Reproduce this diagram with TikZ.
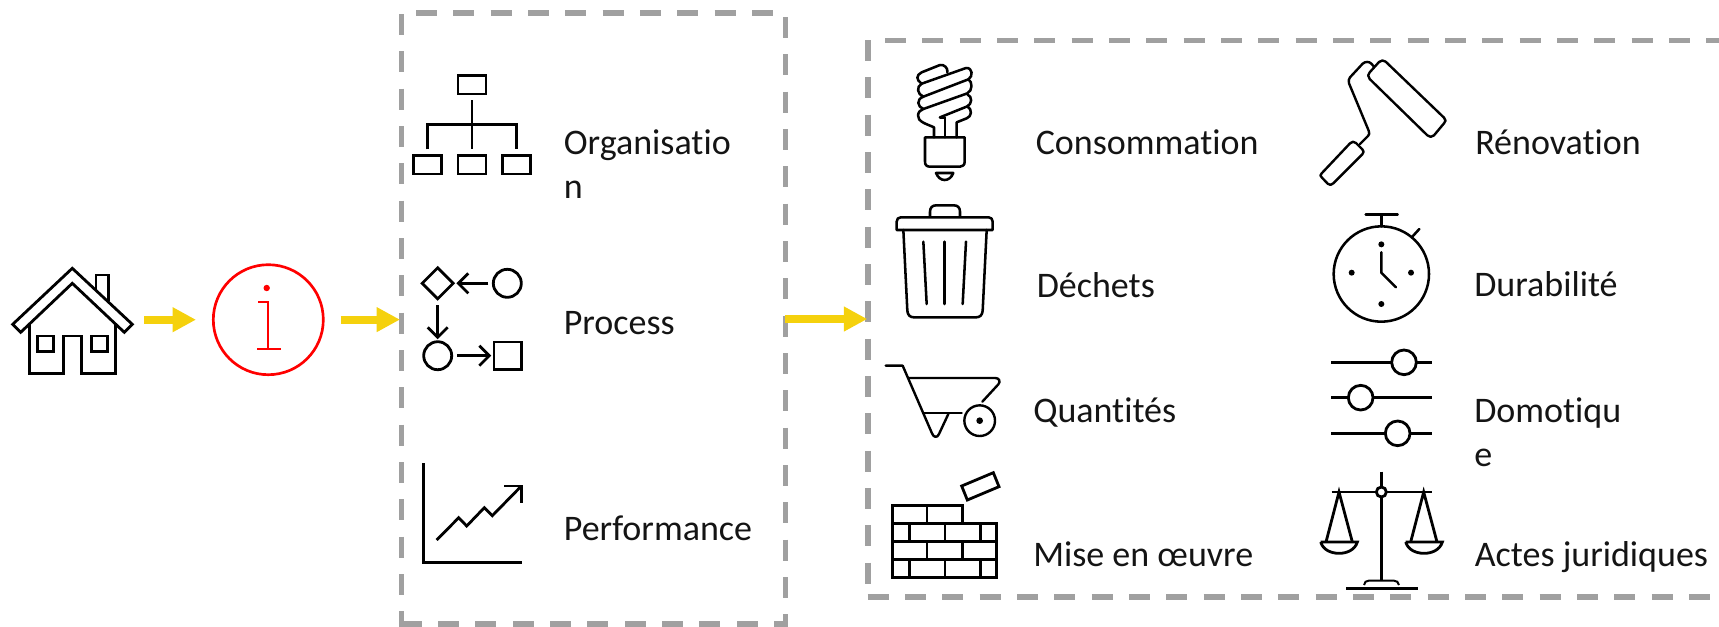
\documentclass[tikz,border=0pt]{standalone}
\usepackage{fontspec}
\setmainfont[Ligatures=NoCommon]{Carlito}
\usetikzlibrary{arrows.meta}
\definecolor{ygold}{HTML}{F5D10D}
\definecolor{dashgray}{HTML}{A0A0A0}
\definecolor{infored}{HTML}{FF0000}
\tikzset{
  ic/.style={line width=2.1pt,draw=black,line join=miter},
  icr/.style={line width=1.9pt,draw=black,line join=round,line cap=round},
  dashbox/.style={line width=4pt,draw=dashgray,dash pattern=on 15.75pt off 12.25pt},
  yarrow/.style={line width=6pt,draw=ygold,-{Triangle[length=17.5pt,width=17.5pt,fill=ygold]}},
  lbl/.style={anchor=base west,inner sep=0pt,align=left,font=\fontsize{27}{33}\selectfont,text=black!92},
  z/.style={shift={(#1)},x=0.25pt,y=-0.25pt},
}
\begin{document}
\begin{tikzpicture}[x=0.75pt,y=-0.75pt]
\useasboundingbox (0,0) rectangle (1719,626);
\clip (0,0) rectangle (1719,626);
% dashed boxes
\draw[dashbox,dash phase=16.95pt,line join=miter] (401.3,13) -- (785.3,13) -- (785.3,624) -- (401.3,624);
\draw[dashbox] (401.3,14) -- (401.3,626.5);
\draw[dashbox] (885,40.5) -- (1730,40.5);
\draw[dashbox] (868,40) -- (868,599.5);
\draw[dashbox] (867.7,597) -- (1730,597);
% house
\begin{scope}[ic]
\draw (72.3,268.3) -- (132.3,324.3) -- (124.3,332.3) -- (72.3,283.3) -- (20.7,332.3) -- (12.7,324.3) -- cycle;
\draw (29.3,323) -- (29.3,373.3) -- (63.3,373.3) -- (63.3,336) -- (81.7,336) -- (81.7,373.3) -- (115.7,373.3) -- (115.7,323);
\draw (37.7,336) rectangle (53.3,351.7);
\draw (91.7,336) rectangle (107.3,351.7);
\draw (96,290) -- (96,275) -- (108.3,275) -- (108.3,301);
\end{scope}
% info
\node[circle,draw=infored,line width=2pt,minimum size=82.5pt,inner sep=0pt] (info) at (268.3,319.7) {};
\fill[infored] (266.7,288) circle[radius=3.2];
\draw[infored,line width=1.7pt] (258.3,301.7) -- (268.3,301.7) -- (268.3,349.3);
\draw[infored,line width=1.7pt] (257.3,349.3) -- (280.7,349.3);
% arrows
\coordinate (a1s) at (144.3,319.7); \coordinate (a1e) at (196,319.7);
\coordinate (a2s) at (340.7,319.6); \coordinate (a2e) at (400,319.6);
\coordinate (a3s) at (785,319); \coordinate (a3e) at (867.3,319);
\draw[yarrow] (a1s) -- (a1e);
\draw[yarrow] (a2s) -- (a2e);
\draw[yarrow] (a3s) -- (a3e);
% org chart
\begin{scope}[ic]
\draw (458,75.3) rectangle (486,94);
\draw (472,100) -- (472,149.3);
\draw (427.3,149.3) -- (427.3,124.3) -- (516.7,124.3) -- (516.7,149.3);
\draw (413.3,155.3) rectangle (441.3,174);
\draw (458,155.3) rectangle (486,174);
\draw (502.7,155.3) rectangle (530.7,174);
% process
\draw (437.7,267.8) -- (453.2,283.3) -- (437.7,298.8) -- (422.2,283.3) -- cycle;
\draw (507.3,283.3) circle[radius=14];
\draw (437.7,355.7) circle[radius=14];
\draw (494,342) rectangle (521.7,369.3);
\draw (488.3,283.3) -- (458.3,283.3);
\draw (468.3,273.3) -- (458.3,283.3) -- (468.3,293.3);
\draw (437.7,305) -- (437.7,337.3);
\draw (427.7,327.3) -- (437.7,337.3) -- (447.7,327.3);
\draw (457.3,355.7) -- (489.3,355.7);
\draw (479.3,345.7) -- (489.3,355.7) -- (479.3,365.7);
% chart
\draw (423.3,463.3) -- (423.3,562.3) -- (522.3,562.3);
\draw (436.7,540) -- (458.7,517.7) -- (466.7,526) -- (484.3,507.7) -- (492.3,515.7) -- (520.7,486.7);
\draw (504.3,486) -- (521.7,486) -- (521.7,502.7);
\end{scope}
% bulb
\begin{scope}[z={860,40},icr]
\draw (195,292) -- (314,292) -- (314,365) .. controls (314,375) and (308,380) .. (300,380) -- (210,380) .. controls (200,380) and (195,375) .. (195,365) -- cycle;
\draw (228,399) -- (280,399) .. controls (275,412) and (265,420) .. (254,420) .. controls (243,420) and (233,412) .. (228,399) -- cycle;
\draw (222,292) -- (222,262) .. controls (200,252) and (172,245) .. (174,226) .. controls (175,215) and (182,210) .. (190,207)
  .. controls (172,200) and (168,178) .. (190,170) .. controls (172,163) and (168,140) .. (185,131) .. controls (168,120) and (168,105) .. (185,97)
  -- (240,75) .. controls (252,72) and (265,85) .. (262,97);
\draw (185,131) -- (318,84) .. controls (338,82) and (340,110) .. (325,118) -- (190,170);
\draw (325,118) .. controls (338,125) and (338,152) .. (322,160) -- (190,207);
\draw (322,163) .. controls (338,170) and (336,192) .. (322,199) -- (240,232);
\draw (322,199) .. controls (338,208) and (335,230) .. (320,235) -- (290,247) -- (290,292);
\draw (240,232) -- (255,232) -- (255,292);
\end{scope}
% trash
\begin{scope}[z={860,40},icr]
\draw (110,570) -- (110,545) .. controls (110,537) and (115,532) .. (122,532) -- (386,532) .. controls (393,532) and (398,537) .. (398,545) -- (398,570) -- cycle;
\draw (210,530) -- (210,515) .. controls (210,503) and (217,496) .. (228,496) -- (282,496) .. controls (293,496) and (300,503) .. (300,515) -- (300,530);
\draw (130,570) -- (142,812) .. controls (143,825) and (150,832) .. (162,832) -- (348,832) .. controls (360,832) and (367,825) .. (368,812) -- (380,570);
\draw (190,605) -- (200,792);
\draw (254,605) -- (254,792);
\draw (318,605) -- (308,792);
\end{scope}
% wheelbarrow
\begin{scope}[z={870,350},icr,line width=1.8pt]
\draw (47,47) -- (98,47) -- (186,250) .. controls (190,262) and (202,265) .. (207,252) -- (235,192);
\draw (115,84) -- (376,84) .. controls (388,84) and (392,95) .. (385,103) -- (337,155);
\draw (163,189) -- (275,189);
\draw (329,212) circle[radius=46];
\fill (329,212) circle[radius=10];
\end{scope}
% bricks
\begin{scope}[z={870,350},ic]
\draw (68,467) -- (277,467) -- (277,520) -- (380,520) -- (380,682) -- (68,682) -- cycle;
\draw (68,520) -- (277,520) (68,574) -- (380,574) (68,628) -- (380,628);
\draw (171,467) -- (171,520) (118,520) -- (118,574) (225,520) -- (225,574) (331,520) -- (331,574);
\draw (171,574) -- (171,628) (278,574) -- (278,628);
\draw (118,628) -- (118,682) (225,628) -- (225,682) (331,628) -- (331,682);
\draw (275,408) -- (370,368) -- (387,410) -- (292,450) -- cycle;
\end{scope}
% roller
\begin{scope}[z={1300,40},icr,line width=1.8pt]
\draw (209,117) .. controls (203,110) and (203,102) .. (209,97) -- (237,66) .. controls (243,60) and (251,60) .. (257,65) -- (432,233) .. controls (438,239) and (438,245) .. (432,250) -- (402,286) .. controls (396,292) and (388,292) .. (382,286) -- cycle;
\draw (222,80) -- (214,71) .. controls (207,64) and (196,64) .. (188,71) -- (150,112) .. controls (146,117) and (145,123) .. (147,130) -- (206,272) .. controls (209,280) and (208,284) .. (204,288) -- (180,312);
\draw (65,400) -- (150,310) .. controls (156,304) and (162,304) .. (168,309) -- (187,328) .. controls (192,333) and (192,338) .. (187,343) -- (100,430) .. controls (94,436) and (88,436) .. (83,431) -- (65,412) .. controls (60,408) and (60,405) .. (65,400) -- cycle;
\end{scope}
% stopwatch
\begin{scope}[z={1300,40},icr]
\draw (244,702) circle[radius=143];
\draw (244,523) -- (244,559);
\draw (197,523) -- (293,523);
\draw (335,592) -- (358,567);
\draw (244,637) -- (244,698) -- (288,742);
\fill (244,613) circle[radius=9];
\fill (155,698) circle[radius=9];
\fill (333,698) circle[radius=9];
\fill (244,792) circle[radius=9];
\end{scope}
% sliders
\begin{scope}[z={1300,340},ic]
\draw (93,67) -- (395,67) (93,173) -- (395,173) (93,280) -- (395,280);
\draw[fill=white] (312,67) circle[radius=37];
\draw[fill=white] (182,173) circle[radius=37];
\draw[fill=white] (293,280) circle[radius=37];
\end{scope}
% scales
\begin{scope}[z={1300,340},ic]
\draw (95,456) -- (395,456);
\draw (244,395) -- (244,722);
\draw[fill=white] (244,456) circle[radius=15];
\draw (138,745) -- (354,745);
\draw[line width=1.5pt] (192,735) .. controls (194,726) and (198,722) .. (206,722) -- (282,722) .. controls (290,722) and (295,726) .. (297,735);
\draw (78,606) -- (117,456) -- (157,606);
\draw (332,606) -- (371,456) -- (411,606);
\draw (62,606) -- (172,606) .. controls (165,630) and (140,640) .. (117,640) .. controls (94,640) and (69,630) .. (62,606);
\draw (317,606) -- (427,606) .. controls (420,630) and (395,640) .. (372,640) .. controls (349,640) and (324,630) .. (317,606);
\end{scope}
% labels
\node[lbl] (t1) at (563.6,198) {Organisatio\\n};
\node[lbl] (t2) at (563.6,334) {Process};
\node[lbl] (t3) at (563.6,540) {Performance};
\node[lbl] (t4) at (1035.5,154) {Consommation};
\node[lbl] (t5) at (1036.5,297) {Déchets};
\node[lbl] (t6) at (1033,422) {Quantités};
\node[lbl] (t7) at (1033,566) {Mise en œuvre};
\node[lbl] (t8) at (1475,154) {Rénovation};
\node[lbl] (t9) at (1474,296) {Durabilité};
\node[lbl] (t10) at (1474,466) {Domotiqu\\e};
\node[lbl] (t11) at (1474.6,566) {Actes juridiques};
\end{tikzpicture}
\end{document}
